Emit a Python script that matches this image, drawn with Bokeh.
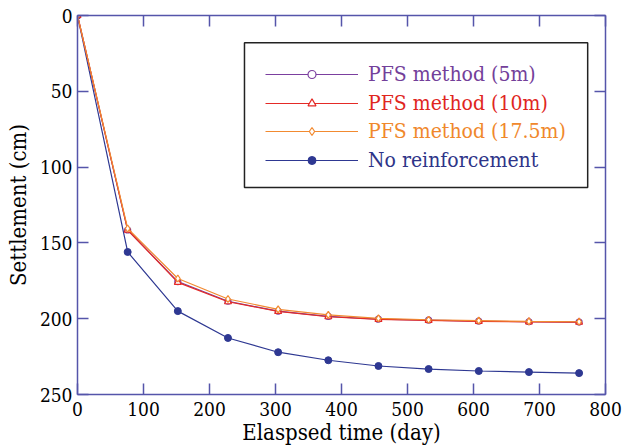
from bokeh.plotting import figure
from bokeh.models import Range1d, LinearAxis, Legend, LegendItem, BoxAnnotation, FixedTicker
from bokeh.embed import file_html
from bokeh.resources import INLINE

# ---- data ----
days = [0, 76, 152, 228, 304, 380, 456, 532, 608, 684, 760]
pfs_5m = [0, 141.5, 175.5, 188.5, 195.0, 198.5, 200.3, 201.0, 201.6, 202.0, 202.2]
pfs_10m = [0, 141.5, 176.0, 188.8, 195.2, 198.7, 200.4, 201.1, 201.7, 202.1, 202.3]
pfs_17_5m = [0, 140.5, 173.5, 187.0, 193.8, 197.5, 199.8, 200.7, 201.3, 201.8, 202.0]
no_reinf = [0, 156.0, 195.0, 212.7, 222.1, 227.4, 231.2, 233.2, 234.5, 235.2, 235.9]
x_ticks = [0, 100, 200, 300, 400, 500, 600, 700, 800]
y_ticks = [0, 50, 100, 150, 200, 250]

FONT = "DejaVu Serif Condensed"
AXC = "#5555aa"
C_PURPLE = "#7b3f9f"
C_RED = "#e42a26"
C_ORANGE = "#f28a30"
C_BLUE = "#2e3892"

p = figure(width=622, height=448, output_backend="svg", toolbar_location=None,
           x_range=Range1d(0, 800), y_range=Range1d(250, 0),
           min_border_left=77, min_border_right=17, min_border_top=15, min_border_bottom=54,
           x_axis_label="Elaspsed time (day)", y_axis_label="Settlement (cm)")
p.grid.visible = False
p.outline_line_color = None
p.background_fill_color = "white"
p.border_fill_color = "white"

for ax in p.xaxis + p.yaxis:
    ax.axis_line_color = AXC
    ax.axis_line_width = 1.5
    ax.major_tick_line_color = AXC
    ax.major_tick_line_width = 1.5
    ax.major_tick_in = 11
    ax.major_tick_out = 0
    ax.minor_tick_line_color = None
    ax.major_label_text_font = FONT
    ax.major_label_text_font_size = "19px"
    ax.major_label_text_color = "black"
    ax.axis_label_text_font = FONT
    ax.axis_label_text_font_size = "22px"
    ax.axis_label_text_font_style = "normal"
    ax.axis_label_text_color = "black"
p.xaxis.ticker = FixedTicker(ticks=x_ticks)
p.yaxis.ticker = FixedTicker(ticks=y_ticks)
p.xaxis.major_label_standoff = 7
p.xaxis.axis_label_standoff = 1
p.yaxis.major_label_standoff = 5
p.yaxis.axis_label_standoff = 6

# mirrored axes (top and right) with inward ticks, no labels
top = LinearAxis(ticker=FixedTicker(ticks=x_ticks))
right = LinearAxis(ticker=FixedTicker(ticks=y_ticks))
for ax in (top, right):
    ax.axis_line_color = AXC
    ax.axis_line_width = 1.5
    ax.major_tick_line_color = AXC
    ax.major_tick_line_width = 1.5
    ax.major_tick_in = 11
    ax.major_tick_out = 0
    ax.minor_tick_line_color = None
    ax.major_label_text_font_size = "0px"
    ax.major_label_standoff = 0
p.add_layout(top, "above")
p.add_layout(right, "right")

# ---- series ----
lb = p.line(days, no_reinf, color=C_BLUE, line_width=1.2)
sb = p.scatter(days, no_reinf, marker="circle", size=7, fill_color=C_BLUE, line_color=C_BLUE)

lp = p.line(days, pfs_5m, color=C_PURPLE, line_width=1.2)
sp = p.scatter(days, pfs_5m, marker="circle", size=6, fill_color="white", line_color=C_PURPLE, line_width=1.2)

lr = p.line(days, pfs_10m, color=C_RED, line_width=1.2)
sr = p.scatter(days, pfs_10m, marker="triangle", size=7, fill_color="white", line_color=C_RED, line_width=1.2)

lo = p.line(days, pfs_17_5m, color=C_ORANGE, line_width=1.2)
so = p.scatter(days, pfs_17_5m, marker="diamond", size=7, fill_color="white", line_color=C_ORANGE, line_width=1.2)

# legend frame
p.add_layout(BoxAnnotation(left=253, right=773, top=18, bottom=113.4,
                           fill_color=None, fill_alpha=0, line_color="#222222",
                           line_alpha=1.0, line_width=1.5))

entries = [
    ("PFS method (5m)", [lp, sp], "#73409a", 308),
    ("PFS method (10m)", [lr, sr], "#e0261e", 279),
    ("PFS method (17.5m)", [lo, so], "#f0882c", 251),
    ("No reinforcement", [lb, sb], "#2e3488", 222),
]
for label, rends, col, vy in entries:
    lg = Legend(items=[LegendItem(label=label, renderers=rends)], location=(188, vy),
                border_line_color=None, background_fill_alpha=0,
                padding=0, margin=0, spacing=0,
                glyph_width=93, glyph_height=20, label_standoff=10,
                label_text_font=FONT, label_text_font_size="21px", label_text_color=col)
    p.add_layout(lg, "center")

open("out.html", "w").write(file_html(p, INLINE))
